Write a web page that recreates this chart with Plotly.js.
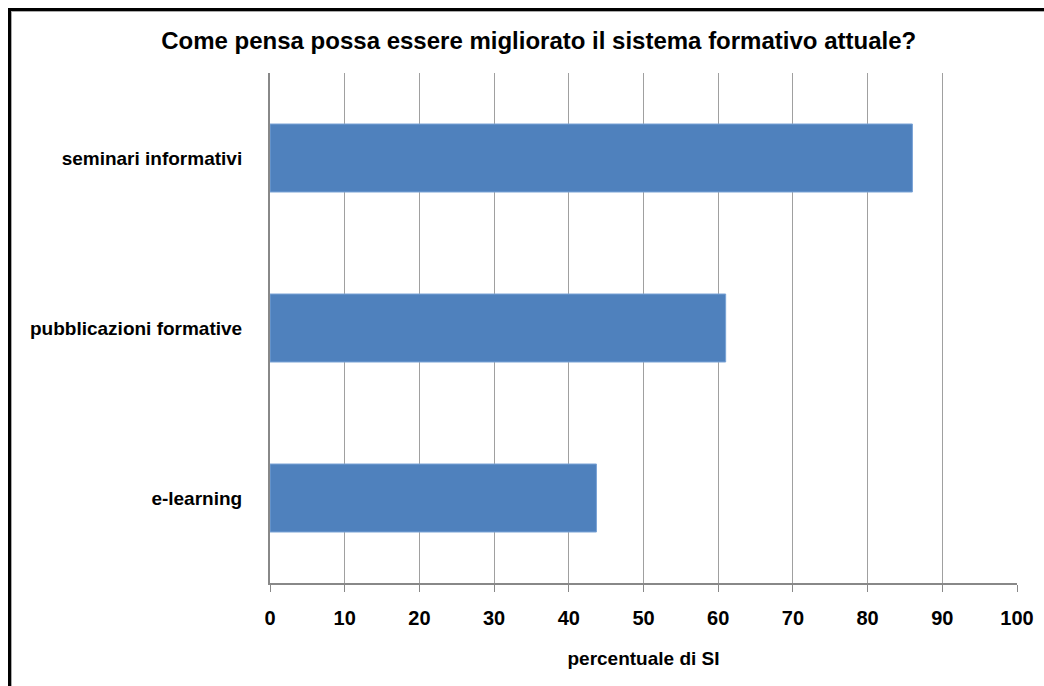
<!DOCTYPE html>
<html>
<head>
<meta charset="utf-8">
<script src="https://cdn.plot.ly/plotly-3.0.1.min.js"></script>
<style>
  html, body { margin: 0; padding: 0; background: #fff; overflow: hidden; }
  #chart { position: absolute; left: 0; top: 0; width: 1044px; height: 686px; }
  #frame { position: absolute; left: 8px; top: 8px; width: 1100px; height: 760px;
           border-left: 3px solid #000; border-top: 3px solid #000; pointer-events: none; }
  #frame2 { position: absolute; left: 0; top: 0; width: 1100px; height: 760px;
           border-left: 1px solid #aaa; border-top: 1px solid #aaa; }
</style>
</head>
<body>
<div id="chart"></div>
<div id="frame"><div id="frame2"></div></div>
<script>
const categories = ["seminari informativi", "pubblicazioni formative", "e-learning"];
const values = [86, 61, 43.7];
const xTicks = [0, 10, 20, 30, 40, 50, 60, 70, 80, 90, 100];
const chartTitle = "Come pensa possa essere migliorato il sistema formativo attuale?";
const xTitle = "percentuale di SI";

const trace = {
  type: "bar",
  orientation: "h",
  x: values,
  y: categories,
  marker: { color: "#4F81BD", line: { color: "#7aa3d6", width: 1 } },
  hoverinfo: "x+y"
};

const layout = {
  width: 1044,
  height: 686,
  margin: { l: 270, r: 27, t: 73, b: 103 },
  paper_bgcolor: "#fff",
  plot_bgcolor: "#fff",
  showlegend: false,
  bargap: 0.6,
  font: { family: "Liberation Sans, Arial, sans-serif", color: "#000" },
  title: {
    text: "<b>" + chartTitle + "</b>",
    font: { size: 24, family: "Liberation Sans, Arial, sans-serif", color: "#000" },
    x: 0.516, xref: "container", xanchor: "center",
    y: 1 - 41 / 686, yref: "container", yanchor: "middle"
  },
  xaxis: {
    range: [0, 100],
    tickvals: xTicks,
    ticktext: xTicks.map(v => "<b>" + v + "</b>"),
    tickfont: { size: 20, color: "#000" },
    showgrid: true,
    gridcolor: "#a0a0a0",
    gridwidth: 1,
    showline: true,
    linecolor: "#888",
    linewidth: 2,
    ticks: "outside",
    ticklen: 7,
    tickcolor: "#888",
    tickwidth: 1,
    ticklabelstandoff: 9,
    zeroline: false,
    fixedrange: true,
    title: { text: "<b>" + xTitle + "</b>", font: { size: 19, color: "#000" }, standoff: 24 }
  },
  yaxis: {
    type: "category",
    categoryorder: "array",
    categoryarray: categories,
    autorange: "reversed",
    tickvals: categories,
    ticktext: categories.map(c => "<b>" + c + "</b>"),
    tickfont: { size: 19, color: "#000" },
    showline: true,
    linecolor: "#888",
    linewidth: 2,
    showgrid: false,
    ticks: "",
    ticklabelstandoff: 22,
    zeroline: false,
    fixedrange: true
  }
};

Plotly.newPlot("chart", [trace], layout, { displayModeBar: false, staticPlot: true });
</script>
</body>
</html>
